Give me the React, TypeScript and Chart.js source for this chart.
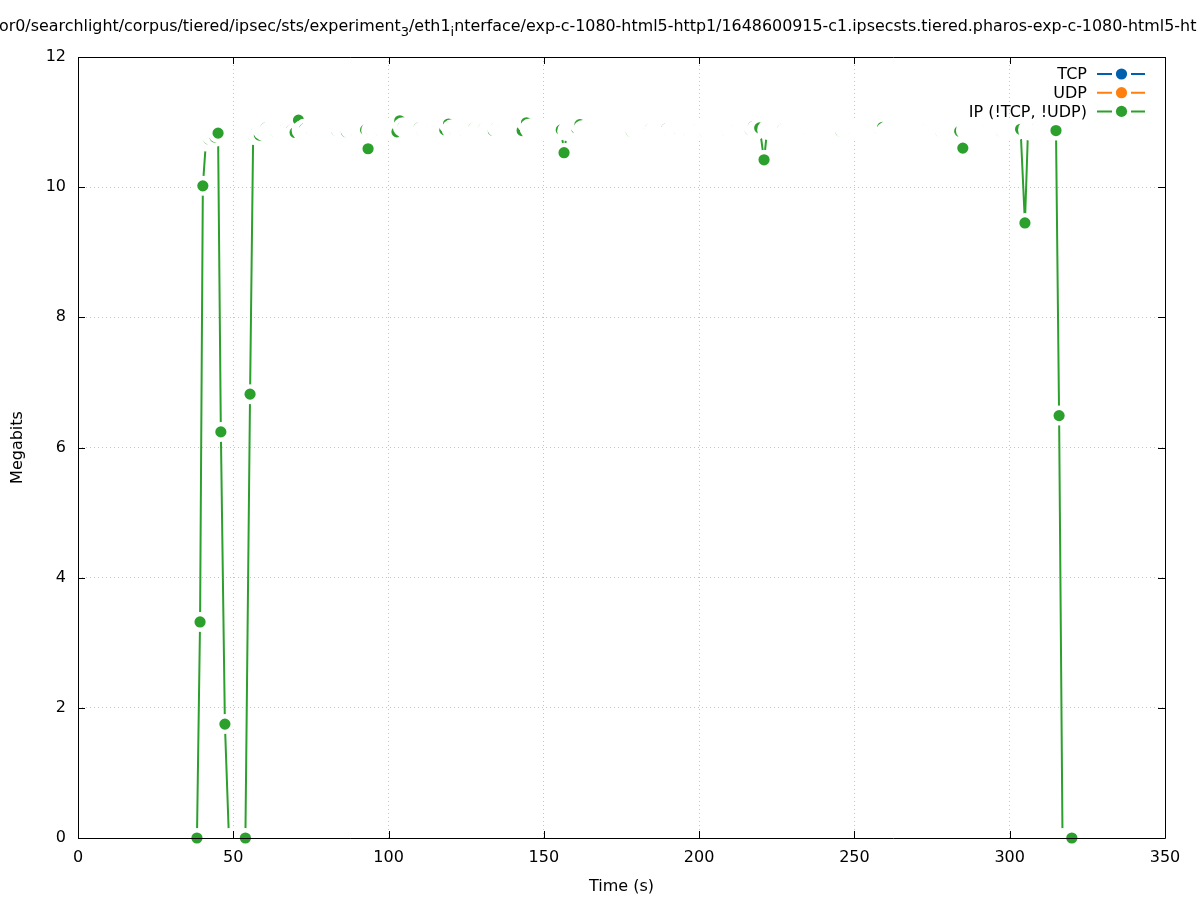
import { useEffect, useRef } from "react";
import { Chart, registerables } from "chart.js";

Chart.register(...registerables);

const FONT = "'DejaVu Sans', 'Liberation Sans', sans-serif";

const TITLE =
  "/home/monitor0/searchlight/corpus/tiered/ipsec/sts/experiment_3/eth1_interface/exp-c-1080-html5-http1/1648600915-c1.ipsecsts.tiered.pharos-exp-c-1080-html5-http1.pcap";
const TITLE_VISIBLE_FROM = "or0/";
const X_TITLE = "Time (s)";
const Y_TITLE = "Megabits";

const X_MIN = 0;
const X_MAX = 350;
const X_STEP = 50;
const Y_MIN = 0;
const Y_MAX = 12;
const Y_STEP = 2;

const SERIES_NAMES = ["TCP", "UDP", "IP (!TCP, !UDP)"];
const SERIES_COLORS = ["#0060ad", "#ff7f0e", "#2ca02c"];

const tcpTime: number[] = [];
const tcpMbit: number[] = [];
const udpTime: number[] = [];
const udpMbit: number[] = [];

const ipTime = [
  38.3, 39.3, 40.2, 41.2, 42.1, 43.1, 44.1, 45.1, 46.0, 47.3,
  48.6, 49.7, 50.7, 51.8, 52.8, 53.9, 55.4, 56.4,
  57.4, 58.4, 59.5, 60.5, 61.5, 62.6, 63.6, 64.6, 65.7, 66.7,
  67.7, 68.8, 69.9, 71.0, 72.0, 73.0, 74.1, 75.1, 76.1, 77.1,
  78.2, 79.2, 80.2, 81.3, 82.3, 83.3, 84.4, 85.4, 86.4, 87.5,
  88.5, 89.5, 90.6, 91.6, 92.6, 93.4, 94.4, 95.5, 96.5, 97.5,
  98.6, 99.6, 100.6, 101.7, 102.7, 103.6, 104.6, 105.7, 106.7, 107.7,
  108.8, 109.8, 110.8, 111.9, 112.9, 113.9, 115.0, 116.0, 117.0, 118.1,
  119.3, 120.3, 121.3, 122.4, 123.4, 124.4, 125.5, 126.5, 127.5, 128.6,
  129.6, 130.6, 131.7, 132.7, 133.7, 134.8, 135.8, 136.8, 137.9, 138.9,
  139.9, 141.0, 142.0, 143.0, 144.4, 145.4, 146.4, 147.5, 148.5, 149.5,
  150.6, 151.6, 152.6, 153.7, 154.7, 155.6, 156.5, 157.5, 158.5, 159.6,
  160.6, 161.6, 162.6, 163.7, 164.7, 165.7, 166.8, 167.8, 168.8, 169.9,
  170.9, 171.9, 173.0, 174.0, 175.0, 176.1, 177.1, 178.1, 179.2, 180.2,
  181.2, 182.3, 183.3, 184.3, 185.4, 186.4, 187.4, 188.5, 189.5, 190.5,
  191.6, 192.6, 193.6, 194.7, 195.7, 196.7, 197.8, 198.8, 199.8, 200.9,
  201.9, 202.9, 204.0, 205.0, 206.0, 207.1, 208.1, 209.1, 210.2, 211.2,
  212.2, 213.3, 214.3, 215.3, 216.4, 217.4, 218.4, 219.5, 220.9, 221.9,
  222.9, 223.9, 225.0, 226.0, 227.0, 228.1, 229.1, 230.1, 231.2, 232.2,
  233.2, 234.3, 235.3, 236.3, 237.4, 238.4, 239.4, 240.5, 241.5, 242.5,
  243.6, 244.6, 245.6, 246.7, 247.7, 248.7, 249.8, 250.8, 251.8, 252.9,
  253.9, 254.9, 256.0, 257.0, 258.0, 259.1, 260.1, 261.1, 262.2, 263.2,
  264.2, 265.3, 266.3, 267.3, 268.4, 269.4, 270.4, 271.5, 272.5, 273.5,
  274.6, 275.6, 276.6, 277.7, 278.7, 279.7, 280.8, 281.8, 282.8, 283.9,
  284.9, 285.9, 286.9, 288.0, 289.0, 290.0, 291.1, 292.1, 293.1, 294.2,
  295.2, 296.2, 297.3, 298.3, 299.3, 300.4, 301.4, 302.4, 303.5, 304.9,
  305.9, 306.9, 307.9, 308.9, 309.9, 310.9, 311.9, 312.9, 313.9, 314.9,
  315.9, 317.0, 318.0, 319.0, 320.0,
];

const ipMbit = [
  0, 3.32, 10.02, 10.7, 10.74, 10.79, 10.77, 10.83, 6.24, 1.75,
  0, 0, 0, 0, 0, 0, 6.82, 10.8,
  10.84, 10.8, 10.87, 10.91, 10.86, 10.88, 10.85, 10.89, 10.87, 10.9,
  10.86, 10.88, 10.84, 11.03, 10.87, 10.9, 10.85, 10.88, 10.92, 10.89,
  10.87, 10.9, 10.88, 10.86, 10.89, 10.87, 10.91, 10.88, 10.85, 10.9,
  10.88, 10.86, 10.89, 10.87, 10.88, 10.59, 10.87, 10.9, 10.88, 10.86,
  10.89, 10.87, 10.9, 10.88, 10.85, 11.02, 10.92, 10.88, 10.9, 10.87,
  10.88, 10.91, 10.86, 10.89, 10.88, 10.9, 10.87, 10.89, 10.85, 10.88,
  10.97, 10.89, 10.87, 10.9, 10.88, 10.86, 10.89, 10.88, 10.91, 10.87,
  10.88, 10.9, 10.86, 10.89, 10.87, 10.92, 10.88, 10.9, 10.87, 10.89,
  10.88, 10.86, 10.89, 10.87, 10.99, 10.9, 10.88, 10.89, 10.87, 10.9,
  10.88, 10.86, 10.89, 10.88, 10.91, 10.88, 10.53, 10.86, 10.89, 10.87,
  10.9, 10.96, 10.88, 10.87, 10.89, 10.88, 10.9, 10.87, 10.89, 10.88,
  10.86, 10.89, 10.88, 10.9, 10.87, 10.89, 10.88, 10.86, 10.9, 10.88,
  10.89, 10.87, 10.88, 10.9, 10.86, 10.89, 10.88, 10.87, 10.9, 10.85,
  10.88, 10.89, 10.87, 10.9, 10.88, 10.86, 10.89, 10.88, 10.9, 10.87,
  10.85, 10.89, 10.88, 10.9, 10.87, 10.89, 10.88, 10.86, 10.89, 10.88,
  10.9, 10.87, 10.89, 10.86, 10.88, 10.93, 10.88, 10.91, 10.42, 10.88,
  10.9, 10.87, 10.89, 10.88, 10.9, 10.86, 10.89, 10.88, 10.87, 10.9,
  10.88, 10.89, 10.87, 10.9, 10.88, 10.86, 10.89, 10.88, 10.9, 10.87,
  10.89, 10.88, 10.86, 10.9, 10.88, 10.89, 10.87, 10.9, 10.88, 10.89,
  10.87, 10.88, 10.9, 10.86, 10.89, 10.92, 10.85, 10.88, 10.89, 10.87,
  10.9, 10.88, 10.86, 10.89, 10.88, 10.9, 10.87, 10.89, 10.88, 10.9,
  10.87, 10.89, 10.88, 10.86, 10.9, 10.88, 10.89, 10.87, 10.88, 10.86,
  10.6, 10.87, 10.89, 10.88, 10.9, 10.87, 10.89, 10.88, 10.9, 10.87,
  10.89, 10.88, 10.86, 10.9, 10.88, 10.89, 10.87, 10.88, 10.89, 9.45,
  10.88, 10.86, 10.89, 10.92, 10.88, 10.9, 10.87, 10.89, 10.88, 10.87,
  6.49, 0, 0, 0, 0,
];

const toPoints = (xs: number[], ys: number[]) => xs.map((x, i) => ({ x, y: ys[i] }));

function parseEnhanced(s: string) {
  const segs: { text: string; sub: boolean }[] = [];
  let buf = "";
  for (let i = 0; i < s.length; i++) {
    if (s[i] === "_" && i + 1 < s.length) {
      if (buf) segs.push({ text: buf, sub: false });
      buf = "";
      segs.push({ text: s[i + 1], sub: true });
      i++;
    } else buf += s[i];
  }
  if (buf) segs.push({ text: buf, sub: false });
  return segs;
}

const FONT_SIZE = 16;
const TITLE_FONT_SIZE = 15.9;

const decorPlugin = {
  id: "gnuplotDecor",
  beforeDatasetsDraw(chart: any) {
    const { ctx, chartArea } = chart;
    ctx.save();
    const textRight = chartArea.right - 78;
    const lineStart = chartArea.right - 68;
    const lineEnd = chartArea.right - 20;
    const dotX = (lineStart + lineEnd) / 2 + 0.5;
    ctx.font = `${FONT_SIZE}px ${FONT}`;
    ctx.textAlign = "right";
    ctx.textBaseline = "middle";
    SERIES_NAMES.forEach((name, i) => {
      const y = chartArea.top + 17 + i * 18.7;
      ctx.fillStyle = "#000";
      ctx.fillText(name, textRight, y + 1);
      ctx.strokeStyle = SERIES_COLORS[i];
      ctx.lineWidth = 2;
      ctx.beginPath();
      ctx.moveTo(lineStart, y);
      ctx.lineTo(dotX - 9.5, y);
      ctx.moveTo(dotX + 9.5, y);
      ctx.lineTo(lineEnd, y);
      ctx.stroke();
      ctx.fillStyle = SERIES_COLORS[i];
      ctx.beginPath();
      ctx.arc(dotX, y, 5.6, 0, Math.PI * 2);
      ctx.fill();
    });
    ctx.restore();
  },
  afterDatasetsDraw(chart: any) {
    const { ctx, chartArea, scales } = chart;
    const { left, right, top, bottom } = chartArea;
    ctx.save();
    ctx.strokeStyle = "#000";
    ctx.lineWidth = 1;
    const tick = 7;
    ctx.beginPath();
    for (let v = X_MIN; v <= X_MAX; v += X_STEP) {
      const x = Math.round(scales.x.getPixelForValue(v)) + 0.5;
      ctx.moveTo(x, bottom);
      ctx.lineTo(x, bottom - tick);
      ctx.moveTo(x, top);
      ctx.lineTo(x, top + tick);
    }
    for (let v = Y_MIN; v <= Y_MAX; v += Y_STEP) {
      const y = Math.round(scales.y.getPixelForValue(v)) + 0.5;
      ctx.moveTo(left, y);
      ctx.lineTo(left + tick, y);
      ctx.moveTo(right, y);
      ctx.lineTo(right - tick, y);
    }
    ctx.stroke();
    ctx.beginPath();
    ctx.rect(Math.round(left) + 0.5, Math.round(top) + 0.5, Math.round(right - left), Math.round(bottom - top));
    ctx.stroke();
    ctx.restore();
  },
  afterDraw(chart: any) {
    const { ctx } = chart;
    ctx.save();
    ctx.fillStyle = "#000";
    ctx.textAlign = "left";
    ctx.textBaseline = "alphabetic";
    ctx.font = `${TITLE_FONT_SIZE}px ${FONT}`;
    const prefix = TITLE.slice(0, TITLE.indexOf(TITLE_VISIBLE_FROM));
    let x = -1 - ctx.measureText(prefix).width;
    const baseline = 31;
    for (const seg of parseEnhanced(TITLE)) {
      ctx.font = seg.sub ? `${Math.round(TITLE_FONT_SIZE * 0.8)}px ${FONT}` : `${TITLE_FONT_SIZE}px ${FONT}`;
      ctx.fillText(seg.text, x, seg.sub ? baseline + 5 : baseline);
      x += ctx.measureText(seg.text).width;
    }
    ctx.restore();
  },
};

export default function App() {
  const ref = useRef<HTMLCanvasElement>(null);
  useEffect(() => {
    const canvas = ref.current;
    if (!canvas) return;
    const pointStyle = (color: string) => ({
      borderColor: color,
      backgroundColor: color,
      pointBackgroundColor: color,
      pointBorderColor: "#ffffff",
      pointBorderWidth: 4.4,
      pointRadius: 7.8,
      borderWidth: 2,
      borderJoinStyle: "round" as const,
      tension: 0,
      clip: false as const,
    });
    const chart = new Chart(canvas, {
      type: "line",
      data: {
        datasets: [
          { label: SERIES_NAMES[0], data: toPoints(tcpTime, tcpMbit), ...pointStyle(SERIES_COLORS[0]) },
          { label: SERIES_NAMES[1], data: toPoints(udpTime, udpMbit), ...pointStyle(SERIES_COLORS[1]) },
          { label: SERIES_NAMES[2], data: toPoints(ipTime, ipMbit), ...pointStyle(SERIES_COLORS[2]) },
        ],
      },
      options: {
        responsive: false,
        animation: false,
        events: [],
        layout: { padding: { top: 57, right: 32, left: 0, bottom: 0 } },
        plugins: {
          legend: { display: false },
          title: { display: false },
          tooltip: { enabled: false },
        },
        scales: {
          x: {
            type: "linear",
            min: X_MIN,
            max: X_MAX,
            ticks: { stepSize: X_STEP, color: "#000", font: { family: FONT, size: FONT_SIZE }, padding: 10, maxRotation: 0 },
            grid: { color: "#c4c4c4", lineWidth: 1, drawTicks: false },
            border: { display: false, dash: [1, 3] },
            title: { display: true, text: X_TITLE, color: "#000", font: { family: FONT, size: FONT_SIZE }, padding: { top: 4, bottom: 4 } },
            afterFit(scale: any) {
              scale.height = 62;
            },
          },
          y: {
            type: "linear",
            min: Y_MIN,
            max: Y_MAX,
            ticks: { stepSize: Y_STEP, color: "#000", font: { family: FONT, size: FONT_SIZE }, padding: 12 },
            grid: { color: "#c4c4c4", lineWidth: 1, drawTicks: false },
            border: { display: false, dash: [1, 3] },
            title: { display: true, text: Y_TITLE, color: "#000", font: { family: FONT, size: FONT_SIZE }, padding: { top: 8, bottom: 8 } },
            afterFit(scale: any) {
              scale.width = 78;
            },
          },
        },
      },
      plugins: [decorPlugin],
    });
    return () => chart.destroy();
  }, []);
  return (
    <div style={{ position: "fixed", left: 0, top: 0, width: 1197, height: 900, background: "#fff" }}>
      <canvas ref={ref} width={1197} height={900} style={{ display: "block" }} />
    </div>
  );
}
